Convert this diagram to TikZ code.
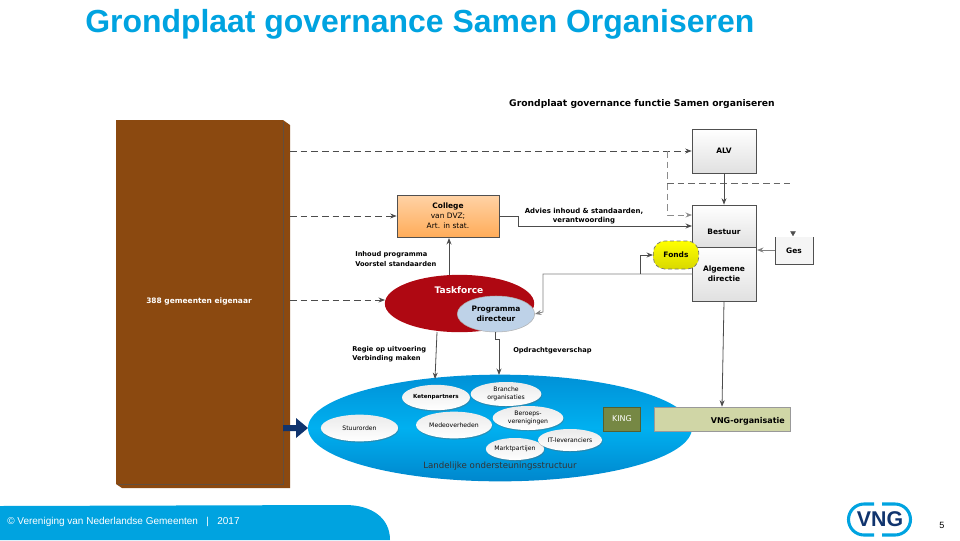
\documentclass[tikz,border=0pt]{standalone}
\usepackage{fontspec}
\setmainfont{Liberation Sans}
\newfontfamily\dejafont{DejaVu Sans}
\usepackage{tikz}
\usetikzlibrary{
    arrows.meta,
    positioning,
    calc,
    shadows,
    shapes.geometric
}
\definecolor{VngCyan}{RGB}{0,163,224}
\definecolor{VngNavy}{RGB}{16,52,110}
\definecolor{BrownFill}{RGB}{139,73,16}
\definecolor{BoxEdge}{RGB}{80,80,80}
\definecolor{TaskRed}{RGB}{175,8,18}
\definecolor{PaleBlue}{RGB}{190,210,232}
\definecolor{OlivePale}{RGB}{208,214,166}
\definecolor{OliveDark}{RGB}{118,136,68}
\definecolor{OvalTop}{RGB}{0,145,215}
\definecolor{OvalMid}{RGB}{0,176,240}
\definecolor{OvalBottom}{RGB}{0,135,205}
\begin{document}
\begin{tikzpicture}[
    x=0.75pt,
    y=-0.75pt,
%
    greybox/.style={
        draw=BoxEdge,
        top color=white,
        bottom color=black!12,
        inner sep=0pt,
        line width=0.5pt
    },
%
    lbl/.style={
        font=\dejafont\bfseries\fontsize{5.6}{7.6}\selectfont,
        align=center,
        inner sep=0pt
    },
%
    smalloval/.style={
        ellipse,
        top color=black!8,
        bottom color=white,
        inner sep=0pt,
        font=\dejafont\fontsize{4.6}{6}\selectfont,
        align=center,
        drop shadow={shadow xshift=0.4pt,shadow yshift=-0.9pt,fill=black!60,opacity=0.4}
    },
%
    arrow/.style={
        -{Stealth[length=1.7mm,width=1.3mm]},
        line width=0.6pt,
        color=black!70
    },
%
    dasharrow/.style={
        arrow,
        dash pattern=on 5pt off 3pt
    }
]
\useasboundingbox (0,0) rectangle (960,540);
%
% Title
%
\node[
    anchor=west,
    inner sep=0pt,
    text=VngCyan,
    font=\bfseries\fontsize{23.95}{26}\selectfont
] (title) at (85,24) {Grondplaat governance Samen Organiseren};
%
\node[
    lbl,
    font=\dejafont\bfseries\fontsize{6.9}{8}\selectfont
] (subtitle) at (642,104) {Grondplaat governance functie Samen organiseren};
%
% Footer
%
\fill[VngCyan] (0,506) -- (345,505)
    .. controls (372,505) and (390,518) .. (390,540)
    -- (0,540) -- cycle;
\node[
    anchor=west,
    inner sep=0pt,
    text=white,
    font=\fontsize{7.5}{8}\selectfont
] (footer) at (7,522) {© Vereniging van Nederlandse Gemeenten~~~|~~~2017};
\node[inner sep=0pt, font=\fontsize{6.8}{8}\selectfont] (pagenr) at (942,525) {5};
%
% Logo
%
\draw[VngCyan, line width=2.3pt]
    (874,504) -- (864,504) arc[start angle=-90, end angle=-270, radius=15.5] -- (874,535);
\draw[VngCyan, line width=2.3pt]
    (882,504) -- (895,504) arc[start angle=-90, end angle=90, radius=15.5] -- (882,535);
\node[
    inner sep=0pt,
    text=VngNavy,
    font=\bfseries\fontsize{16}{18}\selectfont
] (logo) at (880,519) {VNG};
%
% Municipalities block
%
\fill[BrownFill] (116,120) -- (283,120) -- (290,125) -- (290,488)
    -- (122,488) -- (116,484) -- cycle;
\draw[BoxEdge!70!BrownFill, line width=0.5pt] (283,122) -- (283,484) -- (118,484);
\node[
    lbl,
    text=white
] (gemeenten) at (199,301) {388 gemeenten eigenaar};
%
% Boxes
%
\node[
    greybox,
    minimum width=48pt,
    minimum height=33pt,
    lbl
] (alv) at (724,151) {ALV};
%
\node[
    greybox,
    minimum width=48pt,
    minimum height=31.5pt,
    lbl
] (bestuur) at (724,226) {\\[5pt]Bestuur};
%
\node[
    greybox,
    minimum width=48pt,
    minimum height=40.5pt,
    lbl
] (directie) at (724,274) {Algemene\\directie};
%
\node[
    draw=BoxEdge,
    top color=orange!35,
    bottom color=orange!65,
    minimum width=76.5pt,
    minimum height=31.5pt,
    lbl,
    font=\dejafont\fontsize{5.6}{7.4}\selectfont,
    line width=0.5pt
] (college) at (448,216) {\textbf{College}\\van DVZ;\\Art. in stat.};
%
\coordinate (gesnw) at (775,237);
\coordinate (gesne) at (813,237);
\fill[black!4] (775,237) rectangle (813,264);
\draw[BoxEdge, line width=0.5pt] (gesnw) |- (813,264) -- (gesne);
\node[lbl] (ges) at (794,251) {Ges};
\node[
    draw=BoxEdge,
    fill=black!70,
    regular polygon,
    regular polygon sides=3,
    shape border rotate=180,
    inner sep=0pt,
    minimum size=4pt
] (gesmark) at (793,233) {};
%
\node[
    draw=black!55,
    densely dashed,
    rounded corners=3mm,
    top color=yellow,
    bottom color=yellow!85!black,
    minimum width=34pt,
    minimum height=21pt,
    lbl,
    line width=0.5pt
] (fonds) at (676,255) {Fonds};
%
% Taskforce
%
\node[
    ellipse,
    fill=TaskRed,
    minimum width=112pt,
    minimum height=43pt,
    inner sep=0pt
] (taskforce) at (459.5,303.5) {};
\node[lbl, text=white, font=\dejafont\bfseries\fontsize{6.8}{8}\selectfont]
    (tasktext) at (459,290) {Taskforce};
\node[
    ellipse,
    draw=black!30,
    fill=PaleBlue,
    minimum width=58pt,
    minimum height=27pt,
    inner sep=0pt,
    lbl,
    line width=0.4pt
] (programma) at (496,314) {Programma\\directeur};
%
% National support structure
%
\node[
    ellipse,
    top color=OvalTop,
    bottom color=OvalBottom,
    middle color=OvalMid,
    minimum width=288pt,
    minimum height=80pt,
    inner sep=0pt
] (landelijk) at (500,428) {};
\node[
    inner sep=0pt,
    text=black!80,
    font=\dejafont\fontsize{6.5}{8}\selectfont
] (landtext) at (500,466) {Landelijke ondersteuningsstructuur};
%
\node[smalloval, minimum width=58pt, minimum height=20pt] (stuur) at (359.5,428) {Stuurorden};
\node[smalloval, minimum width=51pt, minimum height=19pt, font=\dejafont\bfseries\fontsize{4.2}{6}\selectfont] (ketens) at (436,397.5) {Ketenpartners};
\node[smalloval, minimum width=57pt, minimum height=20pt] (mede) at (454,425) {Medeoverheden};
\node[smalloval, minimum width=53pt, minimum height=18pt] (branche) at (506,394) {Branche\\organisaties};
\node[smalloval, minimum width=53pt, minimum height=18pt] (beroeps) at (528,418) {Beroeps-\\verenigingen};
\node[smalloval, minimum width=41pt, minimum height=16.5pt] (markt) at (515,449) {Marktpartijen};
\node[smalloval, minimum width=48pt, minimum height=16.5pt] (itlev) at (570,440) {IT-leveranciers};
%
\node[
    draw=OliveDark!70!black,
    fill=OliveDark,
    minimum width=28pt,
    minimum height=18pt,
    inner sep=0pt,
    text=white,
    font=\dejafont\fontsize{6}{8}\selectfont,
    line width=0.4pt
] (king) at (622,419) {KING};
\node[
    draw=black!40,
    fill=OlivePale,
    minimum width=102pt,
    minimum height=18pt,
    inner sep=0pt
] (vngorg) at (722,419) {};
\node[lbl, font=\dejafont\bfseries\fontsize{6}{8}\selectfont, anchor=east]
    (vngtext) at (785,421) {VNG-organisatie};
%
% Connectors
%
\coordinate (brownalv) at (290,151);
\coordinate (browncol) at (290,216);
\coordinate (browntask) at (290,300);
\coordinate (alvsplit) at (667,151);
\coordinate (dashstart) at (667,183);
\coordinate (dashend) at (790,183);
\draw[dasharrow] (brownalv) -- (alv.west);
\draw[dasharrow, color=black!45] (alvsplit) |- (692,215);
\draw[color=black!60, dash pattern=on 5pt off 3pt, line width=0.6pt] (dashstart) -- (dashend);
\draw[arrow] (alv.south) -- (bestuur.north);
\draw[dasharrow] (browncol) -- (college.west);
\draw[arrow] (college.east) -- (518,216) -- (518,226) -- (692,226);
\draw[arrow] (449,275) -- (449,238);
\draw[dasharrow] (browntask) -- (385,300);
\draw[arrow] (437,332) -- (435,379);
\draw[arrow] (495,332) -- (495,339) -- (499,339) -- (499,375);
\draw[arrow, color=black!50] (692,274) -- (543,274) -- (543,312) -- (programma.east);
\draw[arrow] (640,274) -- (640,255) -- (fonds.west);
\draw[arrow] (directie.south) -- (vngorg.north);
\draw[arrow, color=black!50] (775,250) -- (757,250);
%
% Block arrow
%
\fill[VngNavy] (283,425) -- (296,425) -- (296,418) -- (308,428)
    -- (296,438) -- (296,431) -- (283,431) -- cycle;
%
% Labels
%
\node[lbl, font=\dejafont\bfseries\fontsize{5.2}{7}\selectfont] (advies) at (584,216)
    {Advies inhoud \& standaarden,\\verantwoording};
\node[lbl, align=left, anchor=west, font=\dejafont\bfseries\fontsize{5}{6.8}\selectfont] (inhoud) at (355,259)
    {Inhoud programma\\Voorstel standaarden};
\node[lbl, align=left, anchor=west, font=\dejafont\bfseries\fontsize{5}{6.8}\selectfont] (regie) at (352,354)
    {Regie op uitvoering\\Verbinding maken};
\node[lbl, anchor=west, font=\dejafont\bfseries\fontsize{5}{6.8}\selectfont] (opdracht) at (513,351)
    {Opdrachtgeverschap};
\end{tikzpicture}
\end{document}
